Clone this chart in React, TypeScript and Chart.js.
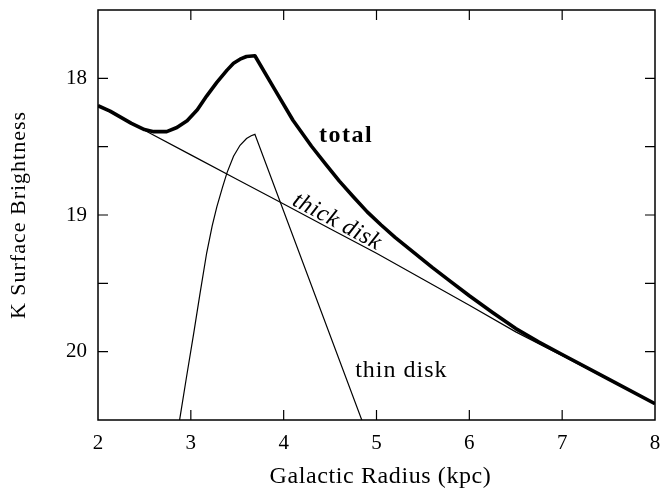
import React, { useEffect, useRef } from "react";
import { Chart, registerables } from "chart.js";

Chart.register(...registerables);

const X_TICKS = [2, 3, 4, 5, 6, 7, 8];
const Y_LABEL_TICKS = [18, 19, 20];
const Y_MINOR_TICKS = [18, 18.5, 19, 19.5, 20];

const THICK_X = [2, 2.5, 3, 3.5, 4, 4.5, 5, 5.5, 6, 6.5, 7, 7.5, 8];
const THICK_Y = [18.2, 18.38, 18.56, 18.74, 18.92, 19.1, 19.28, 19.47, 19.66, 19.855, 20.03, 20.205, 20.38];

const THIN_X = [2.86, 2.95, 3.03, 3.1, 3.17, 3.23, 3.28, 3.34, 3.39, 3.46, 3.53, 3.6, 3.65, 3.69, 4.88];
const THIN_Y = [20.58, 20.2, 19.87, 19.57, 19.28, 19.08, 18.94, 18.8, 18.69, 18.57, 18.49, 18.44, 18.42, 18.41, 20.57];

const TOTAL_X = [2, 2.13, 2.36, 2.5, 2.6, 2.74, 2.85, 2.96, 3.07, 3.17, 3.28, 3.39, 3.46, 3.53, 3.6, 3.69, 3.9, 4.1, 4.3, 4.45, 4.6, 4.75, 4.9, 5.05, 5.2, 5.4, 5.6, 5.8, 6.0, 6.25, 6.5, 6.75, 7.0, 7.5, 8];
const TOTAL_Y = [18.2, 18.24, 18.33, 18.375, 18.39, 18.39, 18.36, 18.31, 18.23, 18.13, 18.03, 17.94, 17.89, 17.86, 17.84, 17.835, 18.077, 18.307, 18.497, 18.626, 18.752, 18.866, 18.977, 19.073, 19.163, 19.273, 19.383, 19.487, 19.591, 19.713, 19.831, 19.93, 20.021, 20.201, 20.381];

const X_TITLE = "Galactic Radius (kpc)";
const Y_TITLE = "K Surface Brightness";

const FONT = "'Liberation Serif', 'DejaVu Serif', serif";

const LABELS = [
  { text: "total", x: 4.38, y: 18.42, font: "bold 24px " + FONT, spacing: "1.5px", rotate: false },
  { text: "thin disk", x: 4.77, y: 20.14, font: "24px " + FONT, spacing: "1px", rotate: false },
  { text: "thick disk", x: 4.575, y: 19.05, font: "italic 24px " + FONT, spacing: "0.6px", rotate: true },
];

export default function App() {
  const ref = useRef<HTMLCanvasElement>(null);
  useEffect(() => {
    const canvas = ref.current;
    if (!canvas) return;
    const pts = (xs: number[], ys: number[]) => xs.map((x, i) => ({ x, y: ys[i] }));

    const framePlugin = {
      id: "frame",
      afterDraw(chart: any) {
        const { ctx, chartArea: a, scales } = chart;
        const xs = scales.x;
        const ys = scales.y;
        ctx.save();
        ctx.strokeStyle = "#000";
        ctx.lineWidth = 1.5;
        ctx.strokeRect(a.left, a.top, a.right - a.left, a.bottom - a.top);
        ctx.lineWidth = 1.2;
        const tl = 10;
        ctx.beginPath();
        X_TICKS.forEach((v) => {
          if (v <= xs.min || v >= xs.max) return;
          const px = xs.getPixelForValue(v);
          ctx.moveTo(px, a.bottom);
          ctx.lineTo(px, a.bottom - tl);
          ctx.moveTo(px, a.top);
          ctx.lineTo(px, a.top + tl);
        });
        Y_MINOR_TICKS.forEach((v) => {
          if (v <= ys.min || v >= ys.max) return;
          const py = ys.getPixelForValue(v);
          ctx.moveTo(a.left, py);
          ctx.lineTo(a.left + tl, py);
          ctx.moveTo(a.right, py);
          ctx.lineTo(a.right - tl, py);
        });
        ctx.stroke();

        ctx.fillStyle = "#000";
        ctx.textBaseline = "middle";
        const ang = Math.atan2(
          ys.getPixelForValue(THICK_Y[THICK_Y.length - 1]) - ys.getPixelForValue(THICK_Y[0]),
          xs.getPixelForValue(THICK_X[THICK_X.length - 1]) - xs.getPixelForValue(THICK_X[0])
        );
        LABELS.forEach((l) => {
          const px = xs.getPixelForValue(l.x);
          const py = ys.getPixelForValue(l.y);
          ctx.save();
          ctx.font = l.font;
          (ctx as any).letterSpacing = l.spacing;
          ctx.translate(px, py);
          if (l.rotate) {
            ctx.rotate(ang);
            ctx.textAlign = "center";
          } else {
            ctx.textAlign = "left";
          }
          ctx.fillText(l.text, 0, 0);
          ctx.restore();
        });

        // axis titles
        ctx.save();
        ctx.textAlign = "center";
        ctx.font = "24px " + FONT;
        (ctx as any).letterSpacing = "0.6px";
        ctx.fillText(X_TITLE, (a.left + a.right) / 2 + 4, chart.height - 15);
        ctx.restore();
        ctx.save();
        ctx.textAlign = "center";
        ctx.font = "22px " + FONT;
        (ctx as any).letterSpacing = "1px";
        ctx.translate(19, (a.top + a.bottom) / 2);
        ctx.rotate(-Math.PI / 2);
        ctx.fillText(Y_TITLE, 0, 0);
        ctx.restore();
        ctx.restore();
      },
    };

    const chart = new Chart(canvas, {
      type: "line",
      data: {
        datasets: [
          {
            label: "total",
            data: pts(TOTAL_X, TOTAL_Y),
            borderColor: "#000",
            borderWidth: 3.6,
            pointRadius: 0,
            tension: 0,
            borderJoinStyle: "round",
          },
          {
            label: "thick disk",
            data: pts(THICK_X, THICK_Y),
            borderColor: "#000",
            borderWidth: 1.2,
            pointRadius: 0,
            tension: 0,
          },
          {
            label: "thin disk",
            data: pts(THIN_X, THIN_Y),
            borderColor: "#000",
            borderWidth: 1.2,
            pointRadius: 0,
            tension: 0,
          },
        ],
      },
      plugins: [framePlugin],
      options: {
        responsive: false,
        animation: false,
        layout: { padding: { top: 10, right: 8, left: 0, bottom: 0 } },
        plugins: { legend: { display: false }, tooltip: { enabled: false } },
        scales: {
          x: {
            type: "linear",
            min: 2,
            max: 8,
            afterBuildTicks: (s: any) => {
              s.ticks = X_TICKS.map((v) => ({ value: v }));
            },
            afterFit: (s: any) => {
              s.height = 72;
              s.paddingLeft = 0;
              s.paddingRight = 0;
            },
            grid: { display: false, drawTicks: false },
            border: { display: false },
            ticks: {
              color: "#000",
              padding: 11,
              maxRotation: 0,
              font: { family: FONT, size: 21 },
              callback: (v: any) => String(v),
            },
          },
          y: {
            type: "linear",
            min: 17.5,
            max: 20.5,
            reverse: true,
            afterBuildTicks: (s: any) => {
              s.ticks = Y_LABEL_TICKS.map((v) => ({ value: v }));
            },
            afterFit: (s: any) => {
              s.width = 98;
              s.paddingTop = 0;
              s.paddingBottom = 0;
            },
            grid: { display: false, drawTicks: false },
            border: { display: false },
            ticks: {
              color: "#000",
              padding: 11,
              font: { family: FONT, size: 21 },
              callback: (v: any) => String(v),
            },
          },
        },
      },
    } as any);
    return () => chart.destroy();
  }, []);
  return (
    <div style={{ position: "fixed", left: 0, top: 0, width: 663, height: 492, background: "#fff" }}>
      <canvas ref={ref} width={663} height={492} style={{ display: "block" }} />
    </div>
  );
}
